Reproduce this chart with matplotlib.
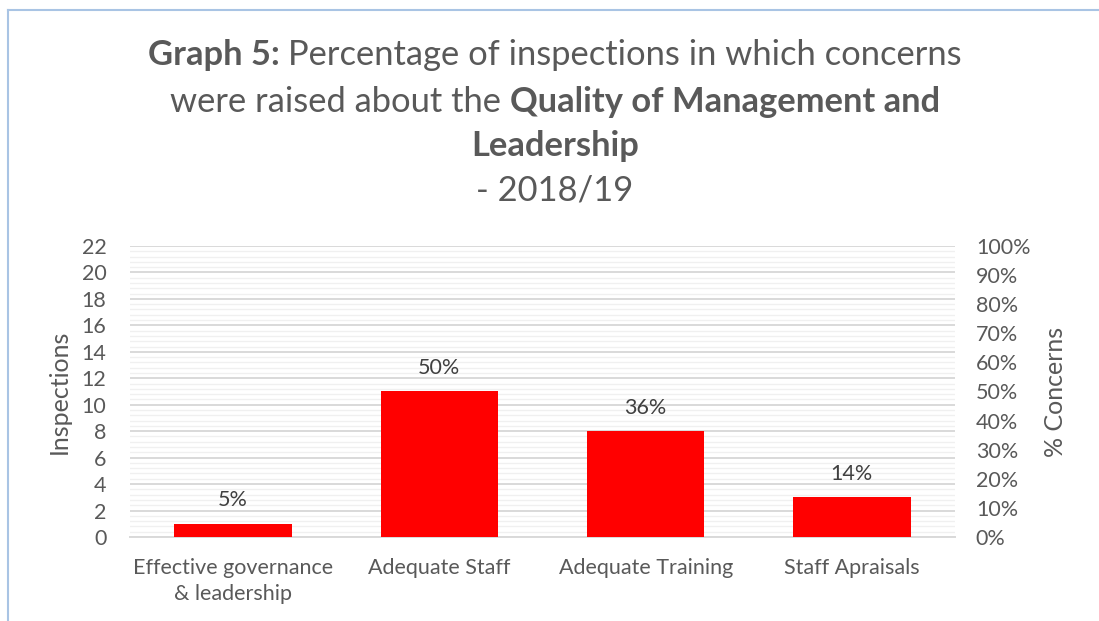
import matplotlib.pyplot as plt
from matplotlib.lines import Line2D
from matplotlib.ticker import MultipleLocator, PercentFormatter

categories = ["Effective governance\n& leadership", "Adequate Staff", "Adequate Training", "Staff Apraisals"]
inspections = [1, 11, 8, 3]
pct_labels = ["5%", "50%", "36%", "14%"]

# title pieces: (text, bold) per line
title_lines = [
    [("Graph 5: ", True), ("Percentage of inspections in which concerns", False)],
    [("were raised about the ", False), ("Quality of Management and", True)],
    [("Leadership", True)],
    [("- 2018/19", False)],
]

FONT = "Lato"
GREY = "#595959"

plt.rcParams['font.family'] = [FONT, 'DejaVu Sans']

fig = plt.figure(figsize=(10.99, 6.21), dpi=100)
ax = fig.add_axes([0.1183, 0.1353, 0.7507, 0.4686])
ax2 = ax.twinx()

ax.bar(range(len(categories)), inspections, width=0.57, color="#ff0000", zorder=3)
for i, v in enumerate(inspections):
    ax.annotate(pct_labels[i], (i, v), xytext=(0, 17), textcoords="offset points",
                ha="center", va="center", fontsize=15.5, color="#404040")

ax.set_xlim(-0.5, len(categories) - 0.5)
ax.set_ylim(0, 22)
ax.yaxis.set_major_locator(MultipleLocator(2))
ax.yaxis.set_minor_locator(MultipleLocator(0.4))
ax.grid(axis="y", which="major", color="#d9d9d9", linewidth=1.4, zorder=0)
ax.grid(axis="y", which="minor", color="#f0f0f0", linewidth=1.0, zorder=0)
ax.set_axisbelow(True)

ax2.set_ylim(0, 1)
ax2.yaxis.set_major_locator(MultipleLocator(0.1))
ax2.yaxis.set_major_formatter(PercentFormatter(1.0, decimals=0))

for a in (ax, ax2):
    for s in a.spines.values():
        s.set_visible(False)
ax.spines["bottom"].set_visible(True)
ax.spines["bottom"].set_color("#d9d9d9")
ax.spines["bottom"].set_linewidth(1.4)

ax.set_xticks(range(len(categories)))
ax.set_xticklabels(categories, linespacing=1.4)
ax.tick_params(axis="x", length=0, pad=15, labelsize=15.5, labelcolor=GREY)
ax.tick_params(axis="y", which="both", length=0, pad=17, labelsize=15.5, labelcolor=GREY)
ax2.tick_params(axis="y", length=0, pad=15, labelsize=15.5, labelcolor=GREY)

ax.set_ylabel("Inspections", fontsize=18, color=GREY, labelpad=8)
ax2.set_ylabel("% Concerns", fontsize=18, color=GREY, labelpad=10)

# title built from bold / regular pieces, centred per line
renderer = fig.canvas.get_renderer()
line_y = [55, 102, 146, 190]
cx = 555
for pieces, ypx in zip(title_lines, line_y):
    texts = []
    for txt, bold in pieces:
        t = fig.text(0, 1 - ypx / 621, txt, fontsize=24.8, color=GREY,
                     fontweight="bold" if bold else "normal", va="center", ha="left")
        texts.append(t)
    widths = [t.get_window_extent(renderer).width for t in texts]
    x = cx - sum(widths) / 2
    for t, w in zip(texts, widths):
        t.set_x(x / 1099)
        x += w

# light blue frame (top and left edges visible)
border = "#a9c4e4"
fig.add_artist(Line2D([8 / 1099, 1], [1 - 10 / 621, 1 - 10 / 621], color=border, linewidth=1.5))
fig.add_artist(Line2D([8 / 1099, 8 / 1099], [0, 1 - 10 / 621], color=border, linewidth=1.5))

fig.savefig("out.png", dpi=100)
